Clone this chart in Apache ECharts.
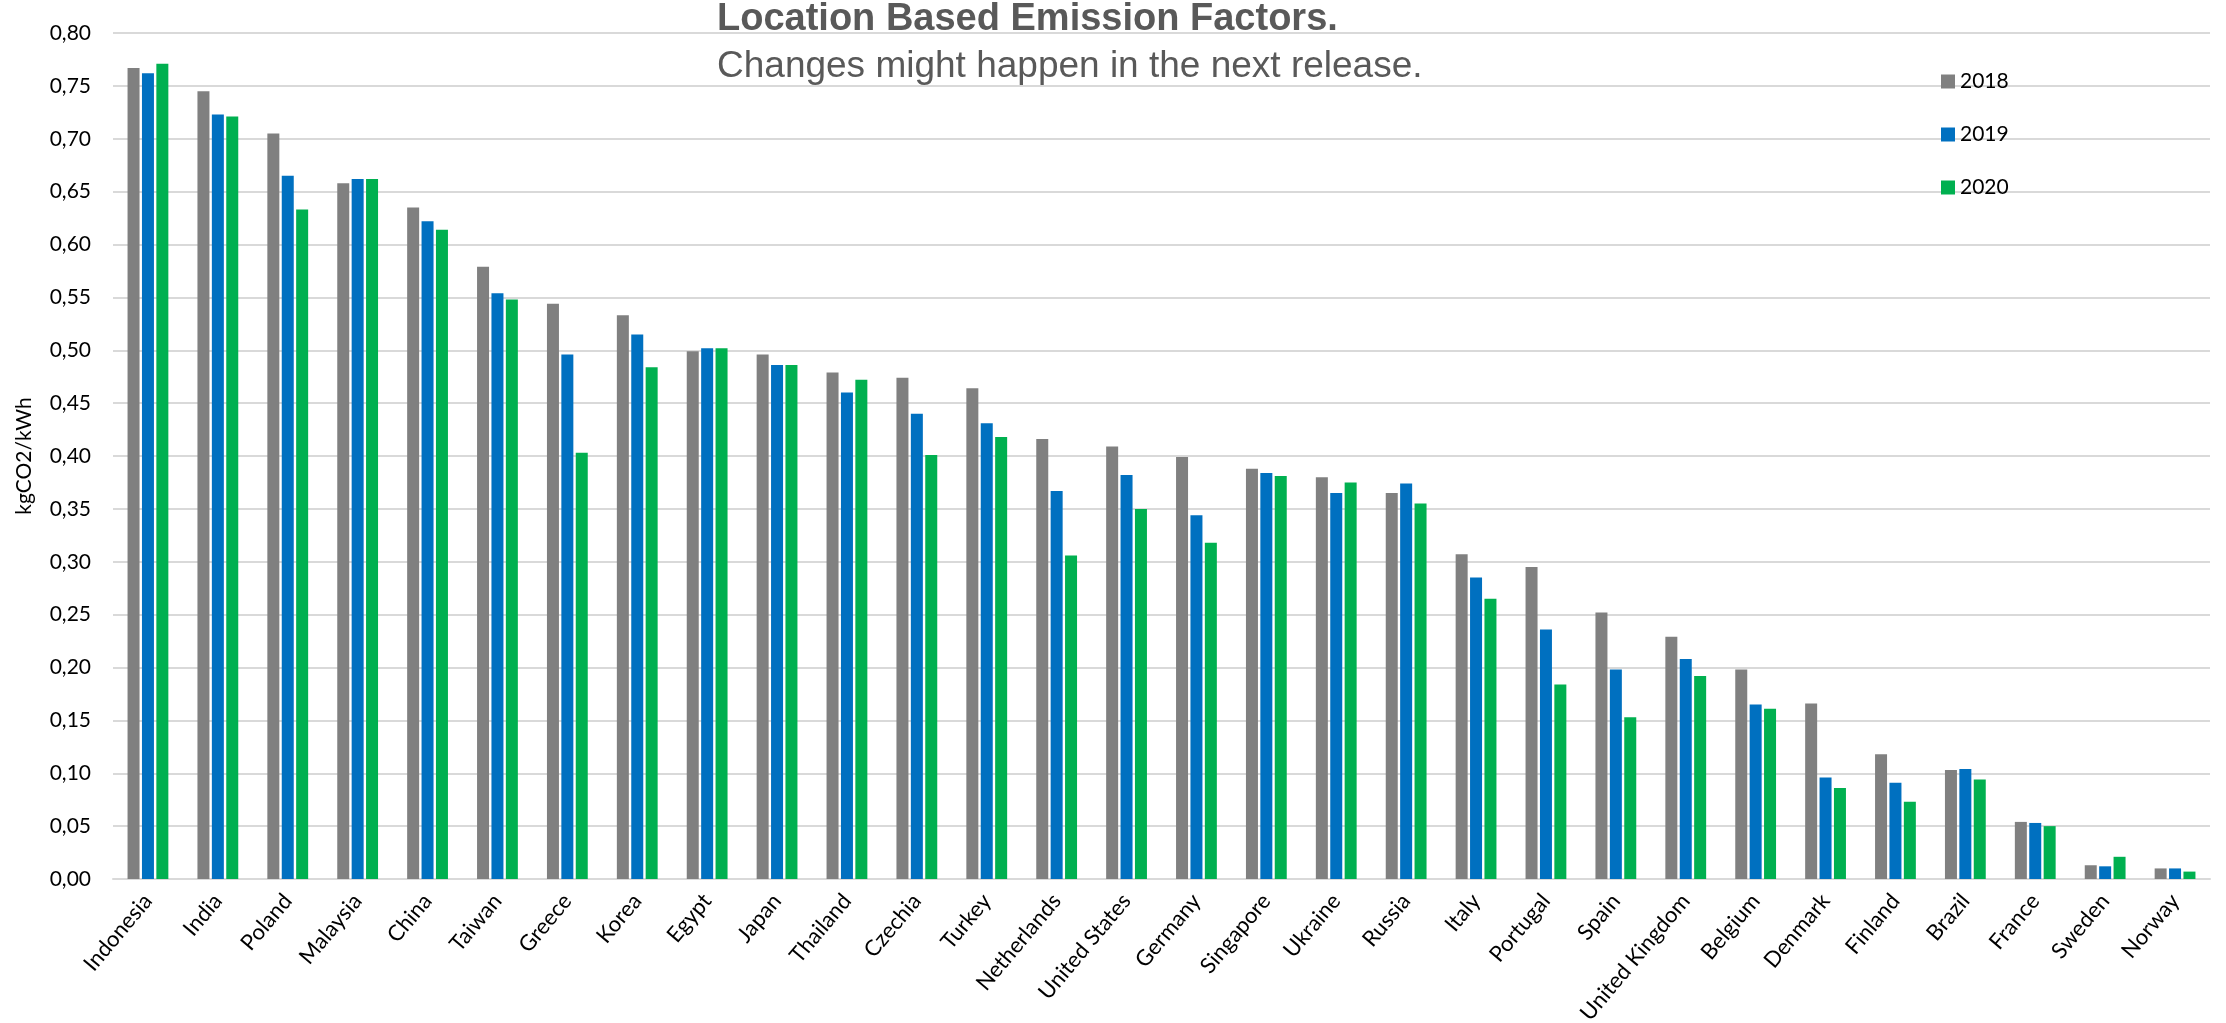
<!DOCTYPE html>
<html>
<head>
<meta charset="utf-8">
<title>Location Based Emission Factors</title>
<script src="https://cdn.jsdelivr.net/npm/echarts@6/dist/echarts.min.js"></script>
<style>
  html, body { margin: 0; padding: 0; background: #ffffff; }
  #chart { width: 2226px; height: 1023px; }
</style>
</head>
<body>
<div id="chart"></div>
<script>
// Countries, sorted by 2018 factor (roughly)
const countries = ['Indonesia', 'India', 'Poland', 'Malaysia', 'China', 'Taiwan', 'Greece', 'Korea', 'Egypt',
  'Japan', 'Thailand', 'Czechia', 'Turkey', 'Netherlands', 'United States', 'Germany', 'Singapore', 'Ukraine',
  'Russia', 'Italy', 'Portugal', 'Spain', 'United Kingdom', 'Belgium', 'Denmark', 'Finland', 'Brazil',
  'France', 'Sweden', 'Norway'];

// kgCO2/kWh per year
const values2018 = [0.767, 0.745, 0.705, 0.658, 0.635, 0.579, 0.544, 0.533, 0.499,
  0.496, 0.479, 0.474, 0.464, 0.416, 0.409, 0.399, 0.388, 0.380,
  0.365, 0.307, 0.295, 0.252, 0.229, 0.198, 0.166, 0.118, 0.103,
  0.054, 0.013, 0.010];
const values2019 = [0.762, 0.723, 0.665, 0.662, 0.622, 0.554, 0.496, 0.515, 0.502,
  0.486, 0.460, 0.440, 0.431, 0.367, 0.382, 0.344, 0.384, 0.365,
  0.374, 0.285, 0.236, 0.198, 0.208, 0.165, 0.096, 0.091, 0.104,
  0.053, 0.012, 0.010];
const values2020 = [0.771, 0.721, 0.633, 0.662, 0.614, 0.548, 0.403, 0.484, 0.502,
  0.486, 0.472, 0.401, 0.418, 0.306, 0.350, 0.318, 0.381, 0.375,
  0.355, 0.265, 0.184, 0.153, 0.192, 0.161, 0.086, 0.073, 0.094,
  0.050, 0.021, 0.007];

const seriesNames = ['2018', '2019', '2020'];
const seriesColors = ['#808080', '#0070C0', '#00B050'];

const yMin = 0;
const yMax = 0.8;
const yStep = 0.05;

const chart = echarts.init(document.getElementById('chart'), null, { renderer: 'canvas' });

const labelFont = 'Lato, "Noto Sans", sans-serif';
const titleFont = '"Liberation Sans", Arial, sans-serif';

const option = {
  backgroundColor: '#ffffff',
  animation: false,
  title: [
    {
      text: 'Location Based Emission Factors.',
      left: 717, top: 1, padding: 0,
      textStyle: { fontFamily: titleFont, fontSize: 38, fontWeight: 'bold', color: '#595959' }
    },
    {
      text: 'Changes might happen in the next release.',
      left: 717, top: 48, padding: 0,
      textStyle: { fontFamily: titleFont, fontSize: 37, fontWeight: 'normal', color: '#595959' }
    }
  ],
  legend: {
    orient: 'vertical',
    left: 1936, top: 66,
    itemWidth: 14, itemHeight: 14, itemGap: 32,
    icon: 'rect',
    data: seriesNames,
    textStyle: { fontFamily: labelFont, fontSize: 21, color: '#000000' }
  },
  grid: { left: 113, right: 16, top: 33, bottom: 144, containLabel: false, outerBoundsMode: 'none' },
  xAxis: {
    type: 'category',
    data: countries,
    axisLine: { show: true, lineStyle: { color: '#d9d9d9', width: 2 } },
    axisTick: { show: false },
    axisLabel: {
      interval: 0, rotate: 50, margin: 18,
      fontFamily: labelFont, fontSize: 22, color: '#000000'
    }
  },
  yAxis: {
    type: 'value',
    min: yMin, max: yMax, interval: yStep,
    name: 'kgCO2/kWh',
    nameLocation: 'middle',
    nameGap: 78,
    nameTextStyle: { fontFamily: labelFont, fontSize: 21, color: '#000000' },
    axisLine: { show: false },
    axisTick: { show: false },
    splitLine: { show: true, lineStyle: { color: '#d9d9d9', width: 2 } },
    axisLabel: {
      margin: 22,
      fontFamily: labelFont, fontSize: 21, color: '#000000',
      formatter: v => v.toFixed(2).replace('.', ',')
    }
  },
  series: [values2018, values2019, values2020].map((vals, i) => ({
    name: seriesNames[i],
    type: 'bar',
    data: vals,
    barWidth: 12,
    barGap: '20%',
    itemStyle: { color: seriesColors[i] }
  }))
};

chart.setOption(option);
</script>
</body>
</html>
